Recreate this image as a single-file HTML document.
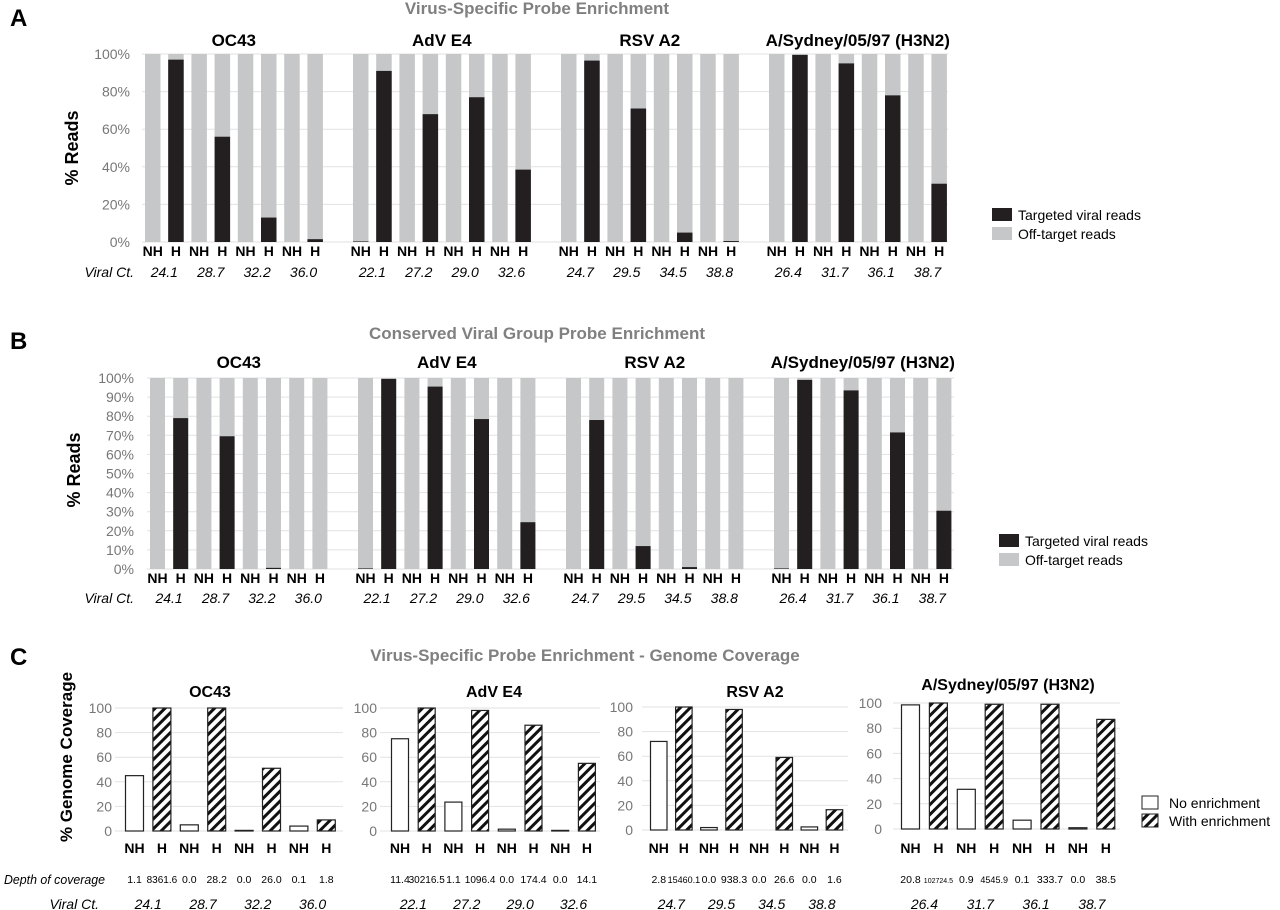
<!DOCTYPE html>
<html><head><meta charset="utf-8"><style>
html,body{margin:0;padding:0;background:#fff}
svg{display:block;font-family:"Liberation Sans",sans-serif}
</style></head><body>
<svg id="fig" width="1280" height="910" viewBox="0 0 1280 910" xmlns="http://www.w3.org/2000/svg">
<defs>
<pattern id="hatch" patternUnits="userSpaceOnUse" width="7" height="7" patternTransform="rotate(45)">
<rect width="7" height="7" fill="#fff"/><rect x="0" y="0" width="3" height="7" fill="#111"/>
</pattern>
</defs>
<text x="10" y="26" font-size="24" font-weight="bold">A</text>
<text x="10" y="349" font-size="24" font-weight="bold">B</text>
<text x="10" y="665" font-size="24" font-weight="bold">C</text>
<text x="537" y="14" font-size="17" font-weight="bold" fill="#808080" text-anchor="middle">Virus-Specific Probe Enrichment</text>
<text x="537" y="339" font-size="17" font-weight="bold" fill="#808080" text-anchor="middle">Conserved Viral Group Probe Enrichment</text>
<text x="585" y="661" font-size="17" font-weight="bold" fill="#808080" text-anchor="middle">Virus-Specific Probe Enrichment - Genome Coverage</text>
<text transform="translate(78,148) rotate(-90)" font-size="18" font-weight="bold" text-anchor="middle">% Reads</text>
<text transform="translate(80,470) rotate(-90)" font-size="18" font-weight="bold" text-anchor="middle">% Reads</text>
<text transform="translate(72,757) rotate(-90)" font-size="17" font-weight="bold" text-anchor="middle">% Genome Coverage</text>
<g id="gA"></g><g id="gB"></g><g id="gC"></g>
</svg>
<script>
const viruses = ["OC43","AdV E4","RSV A2","A/Sydney/05/97 (H3N2)"];
const ctValues = [["24.1","28.7","32.2","36.0"],["22.1","27.2","29.0","32.6"],["24.7","29.5","34.5","38.8"],["26.4","31.7","36.1","38.7"]];
const aTargetNH = [[0,0,0,0],[0.3,0,0,0],[0,0,0,0],[0,0,0,0]];
const aTargetH = [[97,56,13,1.5],[91,68,77,38.5],[96.5,71,5,0.5],[99.5,95,78,31]];
const bTargetNH = [[0,0,0,0],[0.3,0,0,0],[0,0,0,0],[0.3,0,0,0]];
const bTargetH = [[79,69.5,0.6,0],[99.5,95.5,78.5,24.5],[78,12,1,0],[99,93.5,71.5,30.5]];
const aTicks = [0,20,40,60,80,100];
const bTicks = [0,10,20,30,40,50,60,70,80,90,100];
const cNH = [[45,5,0.5,4],[75,23.5,1.5,0.5],[72,2,0,2.5],[98.5,31.5,7,1]];
const cH = [[100,100,51,9],[100,98,86,55],[100,98,59,16.5],[100,99,99,87]];
const cDepthNH = [["1.1","0.0","0.0","0.1"],["11.4","1.1","0.0","0.0"],["2.8","0.0","0.0","0.0"],["20.8","0.9","0.1","0.0"]];
const cDepthH = [["8361.6","28.2","26.0","1.8"],["30216.5","1096.4","174.4","14.1"],["15460.1","938.3","26.6","1.6"],["102724.5","4545.9","333.7","38.5"]];
const cTicks = [0,20,40,60,80,100];

const NS="http://www.w3.org/2000/svg";
function mk(parent,tag,attrs,text){const e=document.createElementNS(NS,tag);for(const k in attrs)e.setAttribute(k,attrs[k]);if(text!==undefined)e.textContent=text;parent.appendChild(e);return e;}

function stacked(g, cfg, tNH, tH, ticks){
  const y=v=>cfg.y0-(cfg.y0-cfg.y100)*v/100;
  ticks.forEach(t=>{
    const l=mk(g,'line',{x1:cfg.gx0,x2:cfg.gx1,y1:y(t),y2:y(t),stroke:'#e2e2e2','stroke-width':1});
    
    
    const tx=mk(g,'text',{x:cfg.lx,y:y(t)+5,'font-size':14,fill:'#777','text-anchor':'end'},t+'%');
    
    
  });
  viruses.forEach((v,gi)=>{
    const gx=cfg.first+gi*208;
    const tt=mk(g,'text',{x:gx+4*cfg.pitch-4,y:cfg.titleY,'font-size':17,'font-weight':'bold','text-anchor':'middle'},v);
    
    
    for(let s=0;s<4;s++){
      [tNH[gi][s],tH[gi][s]].forEach((val,k)=>{
        const x=gx+(2*s+k)*cfg.pitch;
        const off=mk(g,'rect',{x:x,y:cfg.y100,width:cfg.w,height:cfg.y0-cfg.y100,fill:'#c6c7c8'});
        
        
        if(val>0){const b=mk(g,'rect',{x:x,y:y(val),width:cfg.w,height:cfg.y0-y(val),fill:'#231f20'});
          
          }
        const lb=mk(g,'text',{x:x+cfg.w/2,y:cfg.labY,'font-size':14,'font-weight':'bold','text-anchor':'middle'},k?'H':'NH');
        
        
      });
      const ct=mk(g,'text',{x:gx+(2*s+0.5)*cfg.pitch+cfg.w/2,y:cfg.ctY,'font-size':14,'font-style':'italic','text-anchor':'middle'},ctValues[gi][s]);
      
      
    }
  });
  const vl=mk(g,'text',{x:cfg.ctLabelX,y:cfg.ctY,'font-size':14,'font-style':'italic','text-anchor':'end'},'Viral Ct.');
  
  
  [['#231f20','Targeted viral reads'],['#c6c7c8','Off-target reads']].forEach((it,i)=>{
    const r=mk(g,'rect',{x:cfg.legX,y:cfg.legY+i*19-7,width:20,height:13,fill:it[0]});
    
    
    const t=mk(g,'text',{x:cfg.legX+26,y:cfg.legY+i*19+5,'font-size':14},it[1]);
    
    
  });
}
stacked(document.getElementById('gA'),{y100:54,y0:242,first:145,pitch:23.2,w:15.5,gx0:142,gx1:948,lx:130,titleY:46,labY:256,ctY:277,ctLabelX:134,legX:992,legY:215},aTargetNH,aTargetH,aTicks);
stacked(document.getElementById('gB'),{y100:378,y0:569,first:150,pitch:23.2,w:15,gx0:147,gx1:954,lx:134,titleY:368,labY:583,ctY:603,ctLabelX:134,legX:999,legY:541},bTargetNH,bTargetH,bTicks);

const cCfg=[{gx0:115,gx1:343,first:125,pitch:27.4,w:19,lx:112,y100:708,y0:831,tx:210},
 {gx0:380,gx1:600,first:391,pitch:26.7,w:18,lx:377,y100:708,y0:831,tx:494},
 {gx0:642,gx1:848,first:650,pitch:25.1,w:17.5,lx:633,y100:707,y0:830,tx:755},
 {gx0:893,gx1:1120,first:901,pitch:27.9,w:19,lx:882,y100:703,y0:829,tx:1008}];
const gC=document.getElementById('gC');
cCfg.forEach((cfg,gi)=>{
  const y=v=>cfg.y0-(cfg.y0-cfg.y100)*v/100;
  cTicks.forEach(t=>{
    const l=mk(gC,'line',{x1:cfg.gx0,x2:cfg.gx1,y1:y(t),y2:y(t),stroke:'#e2e2e2','stroke-width':1});
    
    
    const tx=mk(gC,'text',{x:cfg.lx,y:y(t)+5,'font-size':14,fill:'#777','text-anchor':'end'},String(t));
    
    
  });
  const tt=mk(gC,'text',{x:cfg.tx,y:gi==3?690:697,'font-size':16,'font-weight':'bold','text-anchor':'middle'},viruses[gi]);
  
  
  for(let s=0;s<4;s++){
    [cNH[gi][s],cH[gi][s]].forEach((val,k)=>{
      const x=cfg.first+(2*s+k)*cfg.pitch;
      if(val>0){const b=mk(gC,'rect',{x:x+0.5,y:y(val),width:cfg.w-1,height:cfg.y0-y(val),fill:k?'url(#hatch)':'#fff',stroke:'#222','stroke-width':1.2});
        
        }
      const lb=mk(gC,'text',{x:x+cfg.w/2,y:853,'font-size':14,'font-weight':'bold','text-anchor':'middle'},k?'H':'NH');
      
      
      const dv=k?cDepthH[gi][s]:cDepthNH[gi][s];
      const fs=dv.length>7?7:(dv.length>5?(gi>=2?9:10):10.5);
      const d=mk(gC,'text',{x:x+cfg.w/2,y:883,'font-size':fs,'text-anchor':'middle'},dv);
      
      
    });
    const ct=mk(gC,'text',{x:cfg.first+(2*s+0.5)*cfg.pitch+cfg.w/2,y:909,'font-size':14,'font-style':'italic','text-anchor':'middle'},ctValues[gi][s]);
    
    
  }
});
const dl=mk(gC,'text',{x:105,y:884,'font-size':13,'font-style':'italic','text-anchor':'end',textLength:101,lengthAdjust:'spacingAndGlyphs'},'Depth of coverage');


const vl=mk(gC,'text',{x:99,y:909,'font-size':14,'font-style':'italic','text-anchor':'end'},'Viral Ct.');


[['#fff','No enrichment'],['url(#hatch)','With enrichment']].forEach((it,i)=>{
  const r=mk(gC,'rect',{x:1142,y:796+i*18,width:16,height:13,fill:it[0],stroke:'#222','stroke-width':1});
  
  
  const t=mk(gC,'text',{x:1169,y:808+i*18,'font-size':14},it[1]);
  
  
});
</script>
</body></html>
